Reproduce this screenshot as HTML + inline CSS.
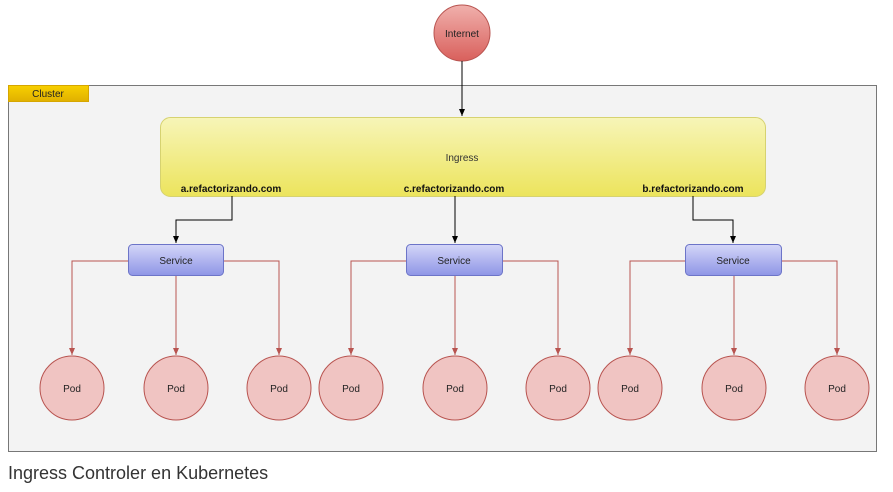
<!DOCTYPE html>
<html><head><meta charset="utf-8"><style>
body{margin:0;background:#fff;width:893px;height:487px;overflow:hidden;font-family:"Liberation Sans",sans-serif}
</style></head><body>
<svg width="893" height="487" viewBox="0 0 893 487" xmlns="http://www.w3.org/2000/svg" font-family="Liberation Sans, sans-serif">
<defs>
<linearGradient id="gy" x1="0" y1="0" x2="0" y2="1"><stop offset="0" stop-color="#f7f5b8"/><stop offset="1" stop-color="#ece45c"/></linearGradient>
<linearGradient id="gb" x1="0" y1="0" x2="0" y2="1"><stop offset="0" stop-color="#d4d6f8"/><stop offset="1" stop-color="#8e95e6"/></linearGradient>
<linearGradient id="gr" x1="0" y1="0" x2="0" y2="1"><stop offset="0" stop-color="#f0b0ac"/><stop offset="1" stop-color="#d9605c"/></linearGradient>
<linearGradient id="gc" x1="0" y1="0" x2="0" y2="1"><stop offset="0" stop-color="#f8d000"/><stop offset="1" stop-color="#e0b000"/></linearGradient>
<marker id="ab" markerWidth="8" markerHeight="8" refX="7" refY="4" orient="auto" markerUnits="userSpaceOnUse"><path d="M0,1 L7,4 L0,7 Z" fill="#000"/></marker>
<marker id="ar" markerWidth="8" markerHeight="8" refX="7" refY="4" orient="auto" markerUnits="userSpaceOnUse"><path d="M0,1 L7,4 L0,7 Z" fill="#b85450"/></marker>
</defs>
<rect x="8.5" y="85.5" width="868" height="366" fill="#f3f3f3" stroke="#777"/>
<rect x="8.5" y="85.5" width="80" height="16" fill="url(#gc)" stroke="#d6a600"/>
<text x="48" y="97" font-size="10" text-anchor="middle" fill="#222">Cluster</text>
<circle cx="462" cy="33" r="28" fill="url(#gr)" stroke="#b85450"/>
<text x="462" y="37" font-size="10" text-anchor="middle" fill="#222">Internet</text>
<line x1="462" y1="61" x2="462" y2="116" stroke="#000" marker-end="url(#ab)"/>
<rect x="160.5" y="117.5" width="605" height="79" rx="10" fill="url(#gy)" stroke="#d6d270"/>
<text x="462" y="161" font-size="10" text-anchor="middle" fill="#333">Ingress</text>
<g font-size="10" font-weight="bold" text-anchor="middle" fill="#111">
<text x="231" y="192">a.refactorizando.com</text>
<text x="454" y="192">c.refactorizando.com</text>
<text x="693" y="192">b.refactorizando.com</text>
</g>
<g fill="none" stroke="#000">
<polyline points="232,196 232,220 176,220 176,243" marker-end="url(#ab)"/>
<polyline points="455,196 455,243" marker-end="url(#ab)"/>
<polyline points="693,196 693,220 733,220 733,243" marker-end="url(#ab)"/>
</g>
<g fill="none" stroke="#b85450">
<polyline points="128,261 72,261 72,355" marker-end="url(#ar)"/>
<line x1="176" y1="276" x2="176" y2="355" marker-end="url(#ar)"/>
<polyline points="223,261 279,261 279,355" marker-end="url(#ar)"/>
<polyline points="406,261 351,261 351,355" marker-end="url(#ar)"/>
<line x1="455" y1="276" x2="455" y2="355" marker-end="url(#ar)"/>
<polyline points="502,261 558,261 558,355" marker-end="url(#ar)"/>
<polyline points="685,261 630,261 630,355" marker-end="url(#ar)"/>
<line x1="734" y1="276" x2="734" y2="355" marker-end="url(#ar)"/>
<polyline points="781,261 837,261 837,355" marker-end="url(#ar)"/>
</g>
<g stroke="#6c74c8">
<rect x="128.5" y="244.5" width="95" height="31" rx="4" fill="url(#gb)"/>
<rect x="406.5" y="244.5" width="96" height="31" rx="4" fill="url(#gb)"/>
<rect x="685.5" y="244.5" width="96" height="31" rx="4" fill="url(#gb)"/>
</g>
<g font-size="10" text-anchor="middle" fill="#222">
<text x="176" y="264">Service</text><text x="454" y="264">Service</text><text x="733" y="264">Service</text>
</g>
<g fill="#f0c4c2" stroke="#b85450">
<circle cx="72" cy="388" r="32"/><circle cx="176" cy="388" r="32"/><circle cx="279" cy="388" r="32"/>
<circle cx="351" cy="388" r="32"/><circle cx="455" cy="388" r="32"/><circle cx="558" cy="388" r="32"/>
<circle cx="630" cy="388" r="32"/><circle cx="734" cy="388" r="32"/><circle cx="837" cy="388" r="32"/>
</g>
<g font-size="10" text-anchor="middle" fill="#222">
<text x="72" y="392">Pod</text><text x="176" y="392">Pod</text><text x="279" y="392">Pod</text>
<text x="351" y="392">Pod</text><text x="455" y="392">Pod</text><text x="558" y="392">Pod</text>
<text x="630" y="392">Pod</text><text x="734" y="392">Pod</text><text x="837" y="392">Pod</text>
</g>
<text x="8" y="479" font-size="18" fill="#333">Ingress Controler en Kubernetes</text>
</svg>
</body></html>
